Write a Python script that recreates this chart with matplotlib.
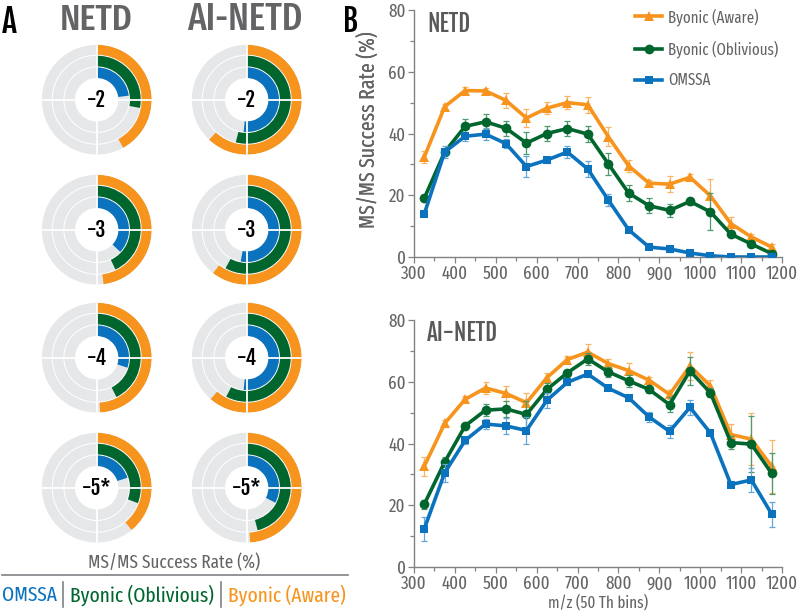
import numpy as np
import matplotlib
matplotlib.use("Agg")
import matplotlib.pyplot as plt
from matplotlib import font_manager

# ---------------- data ----------------
mz = [325, 375, 425, 475, 525, 575, 625, 675, 725, 775, 825, 875, 925, 975, 1025, 1075, 1125, 1175]

netd_aware = [32.3, 48.7, 53.9, 53.8, 50.7, 45.0, 48.2, 50.0, 49.3, 39.0, 29.5, 23.9, 23.6, 25.8, 19.8, 10.8, 6.5, 3.2]
netd_aware_err = [2, 1, 1, 1, 2.5, 3, 2, 2, 2.5, 3, 2, 1, 2.5, 1, 5.5, 2, 1, 1]
netd_obl = [19.0, 34.0, 42.3, 43.8, 41.7, 36.9, 40.0, 41.6, 39.8, 30.2, 20.7, 16.6, 15.1, 18.0, 14.6, 7.4, 4.2, 1.1]
netd_obl_err = [1, 1, 2.5, 2.5, 2.5, 3.5, 2.5, 2.5, 2.5, 3.5, 2.5, 2.5, 2, 1, 6, 1, 0.5, 1]
netd_omssa = [13.9, 34.0, 39.1, 39.8, 36.7, 29.3, 31.4, 34.0, 28.5, 18.5, 8.8, 3.2, 2.6, 1.3, 0.4, 0, 0, 0]
netd_omssa_err = [0.5, 2, 1.5, 2, 1.5, 3.5, 1, 2, 2.5, 2, 0.5, 0.5, 1, 0.5, 0.5, 0, 0, 0]

ai_aware = [32.6, 46.5, 54.3, 58.0, 56.2, 53.2, 61.3, 67.2, 69.6, 65.9, 63.6, 60.5, 55.9, 65.1, 58.6, 42.9, 41.4, 32.6]
ai_aware_err = [3, 1, 1, 2, 2.5, 3, 1.5, 1, 2.5, 1.5, 2.5, 1, 1.5, 4.5, 2, 3.5, 8.5, 8.5]
ai_obl = [20.3, 34.0, 45.7, 50.8, 51.2, 49.4, 57.5, 62.9, 67.4, 63.2, 60.3, 57.5, 52.6, 63.5, 56.4, 40.3, 39.8, 30.3]
ai_obl_err = [1.5, 1.5, 1, 2, 2.5, 4.5, 2, 1, 2, 1.5, 2, 1, 2.5, 4.5, 1.5, 2, 9, 6.5]
ai_omssa = [12.3, 30.5, 41.0, 46.3, 45.7, 44.2, 54.0, 59.8, 62.5, 57.9, 54.8, 48.6, 43.9, 51.7, 43.4, 26.7, 28.2, 17.1]
ai_omssa_err = [4, 3, 1, 1.5, 2.5, 4.5, 2.5, 1, 1, 0.5, 1, 1.5, 2, 2.5, 0.5, 0.5, 4, 4]

charges = ['-2', '-3', '-4', '-5*']
netd_ring_omssa = [23, 37, 30, 20]
netd_ring_obl = [28, 43, 42.6, 30.7]
netd_ring_aware = [42, 48, 49, 39]
ai_ring_omssa = [51.5, 53, 51.5, 32.7]
ai_ring_obl = [54, 58, 57.7, 46]
ai_ring_aware = [62, 60.5, 61.4, 49]

methods = ['OMSSA', 'Byonic (Oblivious)', 'Byonic (Aware)']
x_ticks = [300, 400, 500, 600, 700, 800, 900, 1000, 1100, 1200]
y_ticks = [0, 20, 40, 60, 80]

# ---------------- fonts ----------------
avail = {f.name for f in font_manager.fontManager.ttflist}


def pick(*names):
    for n in names:
        if n in avail:
            return n
    return 'DejaVu Sans'


FONT = pick('Fira Sans Extra Condensed', 'Pathway Gothic One', 'Sofia Sans Extra Condensed',
            'Roboto Condensed', 'Liberation Sans Narrow', 'DejaVu Sans')
BOLD = pick('Fjalla One', 'Roboto Condensed', 'Oswald', 'DejaVu Sans')
plt.rcParams['font.family'] = [FONT, 'DejaVu Sans']

BLUE = '#0B72BE'
GREEN = '#00662E'
ORANGE = '#F7941D'
GREY_BG = '#E6E7E8'
TXT = '#636466'
AXC = '#808285'

W, H = 800, 615
fig = plt.figure(figsize=(8, 6.15), dpi=100)
renderer = fig.canvas.get_renderer()
PT = 100 / 72  # pixels per point


def fx(px):
    return px / W


def fy(py):
    return 1 - py / H


def fit(s, target_w, cap_px=None, family=FONT, weight='normal'):
    t = fig.text(0, 0, s, fontsize=10, family=[family, 'DejaVu Sans'], fontweight=weight)
    w = t.get_window_extent(renderer).width
    t.remove()
    size = 10 * target_w / w
    if cap_px is not None:
        size = min(size, cap_px / (0.7 * PT))
    return size


def ftext(x, y, s, size, family=FONT, weight='normal', **kw):
    return fig.text(fx(x), fy(y), s, fontsize=size, family=[family, 'DejaVu Sans'],
                    fontweight=weight, **kw)


# ---------------- panel A ----------------
ftext(9, 22, 'A', fit('A', 15, 25, BOLD, 'bold'), BOLD, 'bold', color='black', ha='center', va='center')
ftext(96, 20, 'NETD', fit('NETD', 72, 30), weight='medium', color=TXT, ha='center', va='center')
ftext(245, 20, 'AI-NETD', fit('AI-NETD', 114, 30), weight='medium', color=TXT, ha='center', va='center')

col_x = [96.7, 246.7]
row_y = [99.7, 229.7, 357.7, 487.7]
R = 55.0
rings = [(21.7, 32.3, BLUE), (33.3, 44.0, GREEN), (45.0, 55.0, ORANGE)]
col_data = [(netd_ring_omssa, netd_ring_obl, netd_ring_aware),
            (ai_ring_omssa, ai_ring_obl, ai_ring_aware)]
charge_size = fit('-2', 19, 16, BOLD, 'bold')

for ci, cx in enumerate(col_x):
    for ri, cy in enumerate(row_y):
        ax = fig.add_axes([fx(cx - R), fy(cy + R), 2 * R / W, 2 * R / H], projection='polar')
        ax.set_theta_zero_location('N')
        ax.set_theta_direction(-1)
        ax.set_ylim(0, R)
        ax.set_axis_off()
        vals = [col_data[ci][k][ri] for k in range(3)]
        for (r0, r1, colr), v in zip(rings, vals):
            ax.bar(0, r1 - r0, width=2 * np.pi, bottom=r0, color=GREY_BG, align='edge',
                   edgecolor='none', linewidth=0)
            ax.bar(0, r1 - r0, width=v / 100 * 2 * np.pi, bottom=r0, color=colr, align='edge',
                   edgecolor='none', linewidth=0)
        for t in [0, np.pi / 2, np.pi, 3 * np.pi / 2]:
            ax.plot([t, t], [20, R + 1], color='white', lw=1.3, solid_capstyle='butt')
        ax.text(0, 0, charges[ri], fontsize=charge_size, fontweight='bold',
                family=[BOLD, 'DejaVu Sans'], color='black', ha='center', va='center')

ftext(174, 563, 'MS/MS Success Rate (%)', fit('MS/MS Success Rate (%)', 172, 14),
      color=TXT, ha='center', va='center')
fig.add_artist(plt.Line2D([fx(2), fx(348)], [fy(575), fy(575)], color=AXC, lw=1.2))
leg_y = 595
row_size = min(fit(methods[0], 56, 17), fit(methods[1], 144, 17), fit(methods[2], 120, 17))
ftext(2, leg_y, methods[0], row_size, color=BLUE, ha='left', va='center')
fig.add_artist(plt.Line2D([fx(63), fx(63)], [fy(582), fy(607)], color=AXC, lw=1.2))
ftext(70, leg_y, methods[1], row_size, color=GREEN, ha='left', va='center')
fig.add_artist(plt.Line2D([fx(221), fx(221)], [fy(582), fy(607)], color=AXC, lw=1.2))
ftext(228, leg_y, methods[2], row_size, color=ORANGE, ha='left', va='center')

# ---------------- panel B ----------------
ftext(351, 22, 'B', fit('B', 15, 25, BOLD, 'bold'), BOLD, 'bold', color='black', ha='center', va='center')

tick_size = fit('300', 26, 13)
ylab_size = fit('MS/MS Success Rate (%)', 210, 15)
xlab_size = fit('m/z (50 Th bins)', 100, 14)
leg_size = fit('Byonic (Oblivious)', 111, 14)

ax_l, ax_r = 414, 782
panels = [
    (10, 257, 'NETD', (netd_aware, netd_aware_err), (netd_obl, netd_obl_err), (netd_omssa, netd_omssa_err)),
    (320, 567, 'AI-NETD', (ai_aware, ai_aware_err), (ai_obl, ai_obl_err), (ai_omssa, ai_omssa_err)),
]
series_style = [
    ('Byonic (Aware)', ORANGE, '#F9B566', '^', 7.5),
    ('Byonic (Oblivious)', GREEN, '#4C9A6E', 'o', 7),
    ('OMSSA', BLUE, '#63A6DA', 's', 6),
]

for pi, (top, bot, title, s_aw, s_ob, s_om) in enumerate(panels):
    ax = fig.add_axes([fx(ax_l), fy(bot), (ax_r - ax_l) / W, (bot - top) / H])
    handles = []
    for (lab, colr, ecol, mk, ms), (vals, errs), z in zip(series_style, [s_aw, s_ob, s_om], [2, 3, 4]):
        ax.errorbar(mz, vals, yerr=errs, fmt='none', ecolor=ecol, elinewidth=0.9,
                    capsize=2.5, capthick=0.9, zorder=z)
        h, = ax.plot(mz, vals, color=colr, lw=2.6, marker=mk, markersize=ms,
                     markeredgewidth=0, zorder=z + 0.5, label=lab)
        handles.append(h)
    ax.set_xlim(300, 1200)
    ax.set_ylim(0, 80)
    ax.set_xticks(x_ticks)
    ax.set_yticks(y_ticks)
    ax.set_xticks(np.arange(350, 1200, 100), minor=True)
    ax.set_yticks([10, 30, 50, 70], minor=True)
    for s in ['top', 'right']:
        ax.spines[s].set_visible(False)
    for s in ['left', 'bottom']:
        ax.spines[s].set_color(AXC)
        ax.spines[s].set_linewidth(1.0)
    ax.tick_params(which='both', colors=AXC, labelcolor=TXT, labelsize=tick_size, width=0.9, pad=2)
    ax.tick_params(which='major', length=4)
    ax.tick_params(which='minor', length=3)
    ax.set_ylabel('MS/MS Success Rate (%)', fontsize=ylab_size, color=TXT, va='center')
    ax.yaxis.set_label_coords((369 - ax_l) / (ax_r - ax_l), (bot - 130) / (bot - top))
    ht = 24 if pi == 0 else 333
    tw = 48 if pi == 0 else 77
    ax.text((427 - ax_l) / (ax_r - ax_l), (bot - ht) / (bot - top), title,
            transform=ax.transAxes, fontsize=fit(title, tw, 16, BOLD, 'bold'), fontweight='bold',
            family=[BOLD, 'DejaVu Sans'], color='#58595B', ha='left', va='center')
    if pi == 0:
        fpx = leg_size * PT
        ax.legend(handles=handles, loc='upper left',
                  bbox_to_anchor=(fx(635), fy(8)), bbox_transform=fig.transFigure,
                  frameon=False, fontsize=leg_size, labelcolor=TXT,
                  handlelength=27 / fpx, handletextpad=6 / fpx,
                  labelspacing=(31 - fpx) / fpx, borderaxespad=0.0, borderpad=0.0)
    else:
        ax.set_xlabel('m/z (50 Th bins)', fontsize=xlab_size, color=TXT, va='center')
        ax.xaxis.set_label_coords(0.5, -(603 - bot) / (bot - top))

fig.savefig('out.png', dpi=100)
